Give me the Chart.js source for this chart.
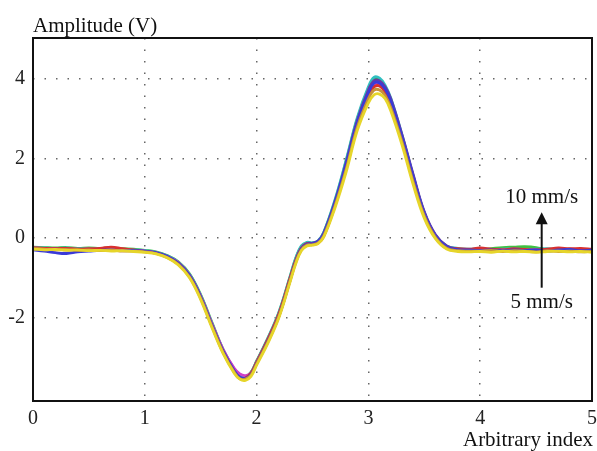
<!DOCTYPE html>
<html>
<head>
<meta charset="utf-8">
<script src="https://cdn.jsdelivr.net/npm/chart.js@4.4.1/dist/chart.umd.min.js"></script>
<style>
html,body{margin:0;padding:0;background:#fff;}
#wrap{width:597px;height:451px;position:relative;}
</style>
</head>
<body>
<div id="wrap"><canvas id="c" width="597" height="451"></canvas></div>
<script>
const xs = [0,0.1,0.2,0.3,0.4,0.5,0.6,0.7,0.8,0.9,1.0,1.1,1.2,1.3,1.4,1.5,1.6,1.7,1.8,1.85,1.9,1.95,2.0,2.1,2.2,2.3,2.35,2.4,2.45,2.5,2.55,2.6,2.7,2.8,2.9,3.0,3.05,3.1,3.15,3.2,3.3,3.4,3.5,3.6,3.7,3.8,3.9,4.0,4.1,4.2,4.3,4.4,4.5,4.6,4.7,4.8,4.9,5.0];

const sYellow = [-0.28,-0.3,-0.29,-0.31,-0.3,-0.32,-0.31,-0.33,-0.32,-0.34,-0.36,-0.4,-0.5,-0.68,-1.0,-1.55,-2.25,-2.9,-3.4,-3.55,-3.58,-3.48,-3.2,-2.65,-2.0,-1.1,-0.65,-0.32,-0.2,-0.18,-0.14,0.02,0.75,1.65,2.7,3.4,3.6,3.62,3.5,3.2,2.35,1.35,0.5,-0.02,-0.28,-0.34,-0.35,-0.34,-0.36,-0.33,-0.35,-0.34,-0.36,-0.34,-0.33,-0.35,-0.34,-0.36];
const sOrange = [-0.26,-0.28,-0.3,-0.29,-0.31,-0.3,-0.32,-0.3,-0.33,-0.33,-0.35,-0.39,-0.49,-0.66,-0.98,-1.52,-2.22,-2.88,-3.38,-3.54,-3.55,-3.45,-3.17,-2.62,-1.97,-1.07,-0.62,-0.3,-0.18,-0.17,-0.12,0.05,0.8,1.72,2.78,3.5,3.72,3.72,3.58,3.28,2.42,1.42,0.55,0.01,-0.26,-0.32,-0.33,-0.33,-0.31,-0.34,-0.32,-0.33,-0.35,-0.32,-0.34,-0.33,-0.35,-0.34];
const sBlue = [-0.3,-0.33,-0.37,-0.39,-0.35,-0.33,-0.31,-0.3,-0.32,-0.31,-0.33,-0.37,-0.46,-0.63,-0.94,-1.48,-2.18,-2.84,-3.34,-3.5,-3.53,-3.43,-3.16,-2.6,-1.96,-1.06,-0.6,-0.27,-0.15,-0.14,-0.09,0.1,0.88,1.85,2.9,3.65,3.9,3.9,3.75,3.45,2.55,1.55,0.62,0.06,-0.22,-0.29,-0.3,-0.31,-0.3,-0.32,-0.3,-0.31,-0.3,-0.33,-0.3,-0.29,-0.32,-0.3];
const sRed = [-0.24,-0.26,-0.27,-0.26,-0.28,-0.27,-0.26,-0.23,-0.27,-0.3,-0.34,-0.38,-0.47,-0.64,-0.95,-1.5,-2.2,-2.86,-3.36,-3.52,-3.52,-3.4,-3.12,-2.55,-1.9,-1.0,-0.56,-0.25,-0.14,-0.15,-0.13,0.04,0.82,1.78,2.82,3.58,3.8,3.82,3.66,3.36,2.46,1.46,0.58,0.04,-0.23,-0.27,-0.28,-0.25,-0.28,-0.3,-0.27,-0.29,-0.3,-0.28,-0.25,-0.27,-0.26,-0.28];
const sMagenta = [-0.25,-0.26,-0.28,-0.27,-0.29,-0.28,-0.3,-0.29,-0.3,-0.31,-0.33,-0.37,-0.46,-0.62,-0.93,-1.46,-2.15,-2.8,-3.28,-3.42,-3.46,-3.4,-3.13,-2.58,-1.93,-1.04,-0.59,-0.27,-0.15,-0.15,-0.11,0.06,0.84,1.8,2.86,3.62,3.85,3.87,3.72,3.42,2.52,1.52,0.6,0.05,-0.23,-0.3,-0.31,-0.3,-0.32,-0.3,-0.33,-0.31,-0.3,-0.32,-0.31,-0.28,-0.3,-0.31];
const sPurple = [-0.27,-0.28,-0.27,-0.3,-0.28,-0.3,-0.29,-0.31,-0.3,-0.32,-0.34,-0.38,-0.48,-0.65,-0.96,-1.5,-2.2,-2.86,-3.36,-3.52,-3.54,-3.44,-3.16,-2.6,-1.95,-1.04,-0.58,-0.26,-0.14,-0.13,-0.08,0.12,0.9,1.88,2.95,3.72,3.95,3.95,3.8,3.5,2.6,1.6,0.66,0.08,-0.2,-0.28,-0.3,-0.29,-0.31,-0.3,-0.3,-0.32,-0.31,-0.3,-0.31,-0.3,-0.29,-0.31];
const sCyan = [-0.24,-0.25,-0.26,-0.25,-0.27,-0.26,-0.28,-0.27,-0.29,-0.3,-0.32,-0.36,-0.45,-0.61,-0.92,-1.45,-2.15,-2.82,-3.32,-3.48,-3.5,-3.38,-3.1,-2.52,-1.86,-0.96,-0.5,-0.2,-0.11,-0.12,-0.07,0.14,0.95,1.95,3.02,3.8,4.04,4.02,3.84,3.52,2.6,1.58,0.64,0.06,-0.2,-0.26,-0.28,-0.27,-0.29,-0.28,-0.27,-0.29,-0.28,-0.27,-0.29,-0.28,-0.3,-0.29];
const sGreen = [-0.23,-0.24,-0.25,-0.24,-0.26,-0.25,-0.26,-0.25,-0.27,-0.28,-0.31,-0.35,-0.44,-0.6,-0.9,-1.43,-2.12,-2.8,-3.3,-3.47,-3.49,-3.38,-3.1,-2.54,-1.88,-0.98,-0.52,-0.22,-0.12,-0.13,-0.08,0.13,0.92,1.92,2.98,3.76,4.0,3.98,3.8,3.48,2.56,1.55,0.62,0.04,-0.22,-0.28,-0.3,-0.3,-0.27,-0.24,-0.23,-0.22,-0.24,-0.3,-0.29,-0.3,-0.31,-0.3];

const seriesList = [sYellow, sOrange, sBlue, sRed, sMagenta, sPurple, sCyan, sGreen];
const seriesColors = ['#e6d52a', '#c8923a', '#3a3ad8', '#d83030', '#d040c8', '#6a3aa0', '#30c0c0', '#40c040'];

const xTicks = [0, 1, 2, 3, 4, 5];
const yTicks = [-2, 0, 2, 4];
const xTitle = 'Arbitrary index';
const yTitle = 'Amplitude (V)';
const arrowTop = '10 mm/s';
const arrowBottom = '5 mm/s';

const FONT = "'Liberation Serif', 'Times New Roman', serif";

const datasets = seriesList.map((s, i) => ({
  data: s.map((v, k) => ({x: xs[k], y: v})),
  borderColor: seriesColors[i],
  borderWidth: 2.8,
  pointRadius: 0,
  tension: 0.4,
  fill: false
}));

const framePlugin = {
  id: 'frame',
  afterDatasetsDraw(chart) {
    const {ctx, chartArea: a, scales} = chart;
    ctx.save();
    ctx.strokeStyle = '#111';
    ctx.lineWidth = 2;
    ctx.strokeRect(a.left, a.top, a.right - a.left, a.bottom - a.top);
    ctx.fillStyle = '#111';
    ctx.font = '21px ' + FONT;
    ctx.textBaseline = 'alphabetic';
    ctx.textAlign = 'left';
    ctx.fillText(yTitle, a.left, a.top - 6);
    ctx.textAlign = 'right';
    ctx.fillText(xTitle, a.right + 1, chart.height - 5);
    const ax = scales.x.getPixelForValue(4.55);
    const yTop = scales.y.getPixelForValue(0.88);
    const yTip = scales.y.getPixelForValue(0.65);
    const yBase = scales.y.getPixelForValue(-1.25);
    const yBot = scales.y.getPixelForValue(-1.75);
    ctx.textAlign = 'center';
    ctx.fillText(arrowTop, ax, yTop);
    ctx.fillText(arrowBottom, ax, yBot);
    ctx.lineWidth = 2;
    ctx.beginPath();
    ctx.moveTo(ax, yBase);
    ctx.lineTo(ax, yTip + 10);
    ctx.stroke();
    ctx.beginPath();
    ctx.moveTo(ax, yTip);
    ctx.lineTo(ax - 6, yTip + 12);
    ctx.lineTo(ax + 6, yTip + 12);
    ctx.closePath();
    ctx.fill();
    ctx.restore();
  }
};

const gridOpts = {color: '#666', lineWidth: 1.5, drawTicks: false};
const borderOpts = {display: false, dash: [1.5, 10]};

new Chart(document.getElementById('c'), {
  type: 'line',
  data: {datasets},
  options: {
    responsive: false,
    animation: false,
    layout: {padding: {top: 38, right: 5, left: 0, bottom: 0}},
    plugins: {legend: {display: false}, tooltip: {enabled: false}},
    scales: {
      x: {
        type: 'linear',
        min: 0, max: 5,
        afterBuildTicks(s) { s.ticks = xTicks.map(v => ({value: v})); },
        afterFit(s) { s.height = 50; s.paddingLeft = 0; s.paddingRight = 0; },
        border: borderOpts,
        grid: gridOpts,
        ticks: {color: '#222', font: {family: FONT, size: 20}, padding: 6, maxRotation: 0, callback: v => String(v)}
      },
      y: {
        type: 'linear',
        min: -4.1, max: 5.03,
        afterBuildTicks(s) { s.ticks = yTicks.map(v => ({value: v})); },
        afterFit(s) { s.width = 33; s.paddingTop = 0; s.paddingBottom = 0; },
        border: borderOpts,
        grid: gridOpts,
        ticks: {color: '#222', font: {family: FONT, size: 20}, padding: 8, callback: v => String(v)}
      }
    }
  },
  plugins: [framePlugin]
});
</script>
</body>
</html>
